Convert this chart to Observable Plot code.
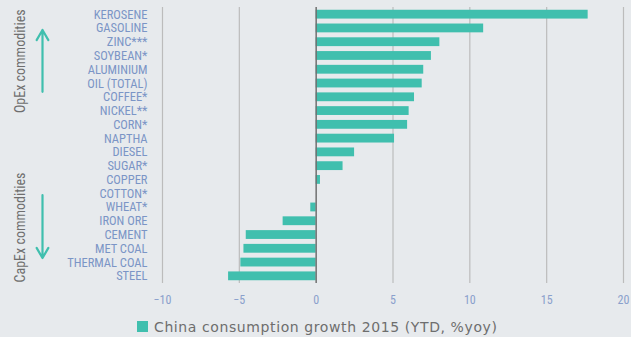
<!DOCTYPE html>
<html>
<head>
<meta charset="utf-8">
<script src="https://cdn.jsdelivr.net/npm/d3@7"></script>
<script src="https://cdn.jsdelivr.net/npm/@observablehq/plot@0.6"></script>
<style>
  html, body { margin: 0; padding: 0; background: #e7eaed; }
  #chart { width: 631px; height: 337px; position: relative; overflow: hidden; }
  .legend { display: flex; align-items: center; height: 27px; padding-left: 137px; margin-top: 3px;
    font-family: "DejaVu Sans", Roboto, sans-serif; font-size: 14px; letter-spacing: 0.6px; color: #6e6e6e; }
  .legend .sw { width: 11px; height: 11px; background: #40bfae; margin-right: 6px; }
</style>
</head>
<body>
<div id="chart"></div>
<script>
const commodities = ["KEROSENE","GASOLINE","ZINC***","SOYBEAN*","ALUMINIUM","OIL (TOTAL)","COFFEE*","NICKEL**","CORN*","NAPTHA","DIESEL","SUGAR*","COPPER","COTTON*","WHEAT*","IRON ORE","CEMENT","MET COAL","THERMAL COAL","STEEL"];
const growth = [17.7, 10.9, 8.05, 7.5, 7.0, 6.9, 6.4, 6.05, 5.95, 5.1, 2.5, 1.75, 0.28, 0.0, -0.35, -2.15, -4.55, -4.7, -4.9, -5.7];
const xTicks = [-10, -5, 0, 5, 10, 15, 20];
const gridTicks = [-10, -5, 5, 10, 15, 20];
const groupLabels = ["OpEx commodities", "CapEx commodities"];
const legendLabel = "China consumption growth 2015 (YTD, %yoy)";

const data = commodities.map((c, i) => ({commodity: c, value: growth[i]}));
const font = '"Roboto Condensed", "Liberation Sans Narrow", "Arial Narrow", Roboto, sans-serif';
const teal = "#40bfae";

const chart = Plot.plot({
  width: 631,
  height: 310,
  marginLeft: 162,
  marginRight: 8,
  marginTop: 7,
  marginBottom: 27,
  style: {background: "transparent", fontFamily: font, fontSize: "11.5px", overflow: "visible"},
  x: {domain: [-10, 20], ticks: xTicks, tickSize: 0, tickPadding: 12, label: null},
  y: {domain: commodities, paddingInner: 0.36, paddingOuter: 0.2, round: false, tickSize: 0, tickPadding: 15, label: null},
  marks: [
    Plot.ruleX(gridTicks, {stroke: "#bcbcbc", strokeWidth: 1.2}),
    Plot.barX(data, {y: "commodity", x1: 0, x2: "value", fill: teal}),
    Plot.ruleX([0], {stroke: "#707070", strokeWidth: 1.5}),
    Plot.axisY({tickSize: 0, tickPadding: 15, fill: "#7b95c6", fontSize: 12.5, textAnchor: "end"}),
    Plot.axisX({ticks: xTicks, tickSize: 0, tickPadding: 12, fill: "#8aa0cc", fontSize: 12, label: null}),
    Plot.text([groupLabels[0]], {x: -10, y: () => "ZINC***", dx: -142, dy: 19, rotate: -90, text: d => d, fill: "#6e6e6e", fontSize: 14, fontFamily: font}),
    Plot.text([groupLabels[1]], {x: -10, y: () => "WHEAT*", dx: -142, dy: 20, rotate: -90, text: d => d, fill: "#6e6e6e", fontSize: 14, fontFamily: font}),
    Plot.arrow([0], {x1: -10, x2: -10, y1: () => "COFFEE*", y2: () => "GASOLINE", dx: -120, dy: -2, inset: 3.5, stroke: teal, strokeWidth: 2.2, headLength: 8}),
    Plot.arrow([0], {x1: -10, x2: -10, y1: () => "COTTON*", y2: () => "THERMAL COAL", dx: -120, dy: -1.5, inset: 3, stroke: teal, strokeWidth: 2.2, headLength: 8})
  ]
});
document.getElementById("chart").appendChild(chart);
const legend = document.createElement("div");
legend.className = "legend";
legend.innerHTML = `<div class="sw"></div><span></span>`;
legend.querySelector("span").textContent = legendLabel;
document.getElementById("chart").appendChild(legend);
</script>
</body>
</html>
